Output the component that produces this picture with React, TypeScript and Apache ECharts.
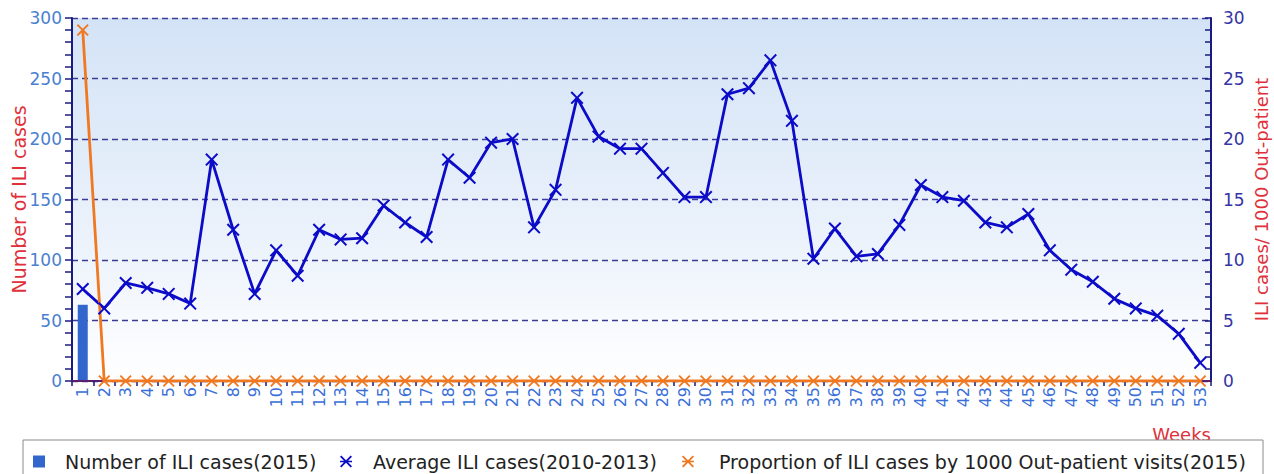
import React, { useEffect, useRef } from 'react';
import * as echarts from 'echarts';

const weeks = ['1', '2', '3', '4', '5', '6', '7', '8', '9', '10', '11', '12', '13', '14', '15', '16', '17', '18', '19', '20', '21', '22', '23', '24', '25', '26', '27', '28', '29', '30', '31', '32', '33', '34', '35', '36', '37', '38', '39', '40', '41', '42', '43', '44', '45', '46', '47', '48', '49', '50', '51', '52', '53'];

const iliCases2015 = [63, 0, 0, 0, 0, 0, 0, 0, 0, 0, 0, 0, 0, 0, 0, 0, 0, 0, 0, 0, 0, 0, 0, 0, 0, 0, 0, 0, 0, 0, 0, 0, 0, 0, 0, 0, 0, 0, 0, 0, 0, 0, 0, 0, 0, 0, 0, 0, 0, 0, 0, 0, 0];

const averageIli2010to2013 = [76, 60, 81, 77, 72, 64, 183, 125, 72, 108, 87, 125, 117, 118, 145, 131, 119, 183, 168, 197, 200, 127, 158, 234, 202, 192, 192, 172, 152, 152, 237, 242, 265, 215, 101, 126, 103, 105, 129, 162, 152, 149, 131, 127, 138, 108, 92, 82, 68, 60, 54, 39, 15];

const proportion2015 = [29, 0, 0, 0, 0, 0, 0, 0, 0, 0, 0, 0, 0, 0, 0, 0, 0, 0, 0, 0, 0, 0, 0, 0, 0, 0, 0, 0, 0, 0, 0, 0, 0, 0, 0, 0, 0, 0, 0, 0, 0, 0, 0, 0, 0, 0, 0, 0, 0, 0, 0, 0, 0];

const leftTicks = { min: 0, max: 300, interval: 50 };
const rightTicks = { min: 0, max: 30, interval: 5 };

const S1 = 'Number of ILI cases(2015)';
const S2 = 'Average ILI cases(2010-2013)';
const S3 = 'Proportion of ILI cases by 1000 Out-patient visits(2015)';

const X_PATH = 'path://M0,1.1 L1.1,0 L5,3.9 L8.9,0 L10,1.1 L6.1,5 L10,8.9 L8.9,10 L5,6.1 L1.1,10 L0,8.9 L3.9,5 Z';
const STAR_PATH = 'path://M0,1.1 L1.1,0 L5,3.9 L8.9,0 L10,1.1 L6.1,5 L10,8.9 L8.9,10 L5,6.1 L1.1,10 L0,8.9 L3.9,5 Z M0,4.3 L10,4.3 L10,5.7 L0,5.7 Z';

const FONT = 'DejaVu Sans';

export default function App() {
  const ref = useRef<HTMLDivElement>(null);
  useEffect(() => {
    if (!ref.current) return;
    const chart = echarts.init(ref.current, null, { renderer: 'svg' });
    const legendText = { fontFamily: FONT, fontSize: 19, color: '#222222' };
    chart.setOption({
      animation: false,
      backgroundColor: '#ffffff',
      grid: {
        left: 72,
        right: 63,
        top: 18,
        bottom: 93,
        containLabel: false,
        outerBoundsMode: 'none',
        show: true,
        borderWidth: 0,
        backgroundColor: new echarts.graphic.LinearGradient(0, 0, 0, 1, [
          { offset: 0, color: '#d3e3f6' },
          { offset: 0.6, color: '#ebf2fb' },
          { offset: 1, color: '#ffffff' },
        ]),
      },
      graphic: [
        {
          type: 'rect',
          z: 5,
          shape: { x: 23, y: 440, width: 1240, height: 60 },
          style: { fill: '#ffffff', stroke: '#8a8a8a', lineWidth: 1 },
        },
      ],
      legend: [
        {
          z: 6,
          left: 33,
          top: 452,
          padding: 0,
          itemWidth: 12,
          itemHeight: 12,
          data: [{ name: S1, icon: 'rect' }],
          textStyle: { ...legendText, padding: [0, 0, 0, 15] },
        },
        {
          z: 6,
          left: 340,
          top: 452,
          padding: 0,
          itemWidth: 16,
          itemHeight: 12,
          data: [{ name: S2, icon: STAR_PATH }],
          textStyle: { ...legendText, padding: [0, 0, 0, 14] },
        },
        {
          z: 6,
          left: 682,
          top: 452,
          padding: 0,
          itemWidth: 16,
          itemHeight: 12,
          data: [{ name: S3, icon: STAR_PATH }],
          textStyle: { ...legendText, padding: [0, 0, 0, 18] },
        },
      ],
      xAxis: {
        type: 'category',
        data: weeks,
        boundaryGap: true,
        z: 3,
        name: 'Weeks',
        nameLocation: 'end',
        nameGap: 0,
        nameMoveOverlap: false,
        nameTextStyle: {
          fontFamily: FONT,
          fontSize: 18,
          color: '#e0303a',
          align: 'right',
          verticalAlign: 'top',
          padding: [44, 0, 0, 0],
        },
        axisLine: { show: true, lineStyle: { color: '#5a1e6e', width: 2 } },
        axisTick: { show: true, length: 5, lineStyle: { color: '#1a1a70', width: 1.5 } },
        axisLabel: {
          interval: 0,
          rotate: 90,
          margin: 6,
          fontFamily: FONT,
          fontSize: 16,
          color: '#3a6fd8',
        },
        splitLine: { show: false },
      },
      yAxis: [
        {
          type: 'value',
          position: 'left',
          min: leftTicks.min,
          max: leftTicks.max,
          interval: leftTicks.interval,
          name: 'Number of ILI cases',
          nameLocation: 'middle',
          nameGap: 44,
          nameMoveOverlap: false,
          nameTextStyle: { fontFamily: FONT, fontSize: 19, color: '#e0303a' },
          axisLine: { show: true, lineStyle: { color: '#1a1a80', width: 2 } },
          axisTick: { show: true, inside: false, length: 7, lineStyle: { color: '#1a1a80', width: 1.5 } },
          minorTick: { show: true, splitNumber: 5, length: 7, lineStyle: { color: '#1a1a80', width: 1.5 } },
          axisLabel: { fontFamily: FONT, fontSize: 17, color: '#4a7fd0', margin: 10 },
          splitLine: { show: true, lineStyle: { color: '#3c3c96', width: 1.3, type: [6, 4] } },
        },
        {
          type: 'value',
          position: 'right',
          min: rightTicks.min,
          max: rightTicks.max,
          interval: rightTicks.interval,
          name: 'ILI cases/ 1000 Out-patient',
          nameLocation: 'middle',
          nameGap: 41,
          nameMoveOverlap: false,
          nameTextStyle: { fontFamily: FONT, fontSize: 18, color: '#e0303a' },
          axisLine: { show: true, lineStyle: { color: '#1a1a80', width: 2 } },
          axisTick: { show: true, inside: true, length: 6, lineStyle: { color: '#1a1a80', width: 1.5 } },
          minorTick: { show: true, splitNumber: 5, length: 6, lineStyle: { color: '#1a1a80', width: 1.5 } },
          axisLabel: { fontFamily: FONT, fontSize: 17, color: '#3535a5', margin: 12, inside: false },
          splitLine: { show: false },
        },
      ],
      series: [
        {
          name: S1,
          type: 'bar',
          yAxisIndex: 0,
          data: iliCases2015,
          barWidth: 10,
          itemStyle: { color: '#3366cc' },
        },
        {
          name: S2,
          type: 'line',
          yAxisIndex: 0,
          data: averageIli2010to2013,
          symbol: X_PATH,
          symbolSize: 13,
          lineStyle: { color: '#0b0bc8', width: 2.8 },
          itemStyle: { color: '#0b0bc8' },
        },
        {
          name: S3,
          type: 'line',
          yAxisIndex: 1,
          data: proportion2015,
          symbol: X_PATH,
          symbolSize: 12,
          lineStyle: { color: '#f07820', width: 2.8 },
          itemStyle: { color: '#f07820' },
        },
      ],
    });
    return () => chart.dispose();
  }, []);
  return (
    <div
      ref={ref}
      style={{ position: 'fixed', left: 0, top: 0, width: 1274, height: 474 }}
    />
  );
}
